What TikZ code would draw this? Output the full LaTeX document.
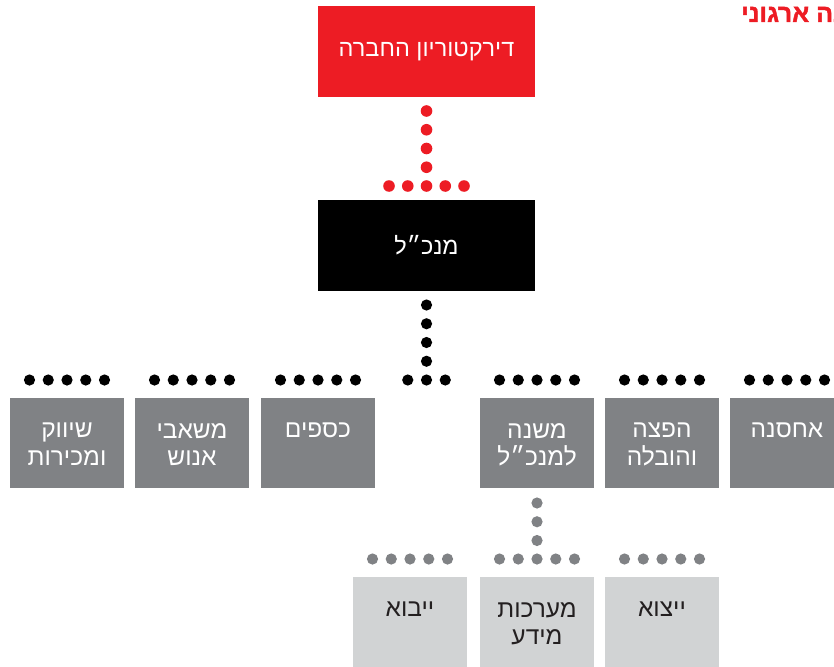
\documentclass[tikz,border=0pt]{standalone}
\usepackage{fontspec}
\usetikzlibrary{positioning, calc}
\TeXXeTstate=1
\newfontfamily\hebfont[Script=Hebrew]{Liberation Sans}
\newfontfamily\hebheavy[Script=Hebrew, FakeBold=1.6]{Liberation Sans Bold}
\newcommand{\heb}[1]{{\hebfont\beginR #1\endR}}
\definecolor{orgred}{HTML}{ED1C24}
\definecolor{orggray}{HTML}{808285}
\definecolor{orglight}{HTML}{D1D3D4}
\definecolor{orgink}{HTML}{231F20}

\begin{document}
\begin{tikzpicture}[x=1pt, y=-1pt,
    unit/.style={minimum width=114pt, minimum height=90pt, inner sep=0pt, outer sep=0pt},
    headbox/.style={minimum width=217pt, minimum height=91pt, inner sep=0pt, outer sep=0pt,
        text=white, font=\fontsize{23.5}{27}\selectfont},
    lbl/.style={anchor=north, inner sep=0pt, align=center, font=\fontsize{24.5}{27.5}\selectfont}]

    \useasboundingbox (0,0) rectangle (834,666);

    % Title (runs off the right edge)
    \node[anchor=base west, inner sep=0pt, text=orgred, font=\fontsize{25}{30}\selectfont]
        (title) at (741,22) {\hebheavy\beginR מבנה ארגוני\endR};

    % Board and CEO
    \node[headbox, fill=orgred] (board) at (426.5,51.5) {\heb{דירקטוריון החברה}};
    \node[headbox, fill=black] (ceo) at (426.5,245.5) {\heb{מנכ״ל}};

    % Departments
    \foreach \n/\x/\t in {mkt/67/{\heb{שיווק}\\\heb{ומכירות}},
                          hr/192/{\heb{משאבי}\\\heb{אנוש}},
                          fin/318/{\heb{כספים}},
                          dep/537/{\heb{משנה}\\\heb{למנכ״ל}},
                          dist/662/{\heb{הפצה}\\\heb{והובלה}},
                          stor/787/{\heb{אחסנה}}} {
        \node[unit, fill=orggray] (\n) at (\x,443) {};
        \node[lbl, text=white] (\n-l) at ([yshift=-25pt]\n.north) {\t};
    }

    % Units under the deputy
    \foreach \n/\x/\t in {imp/410/{\heb{ייבוא}},
                          it/537/{\heb{מערכות}\\\heb{מידע}},
                          exp/662/{\heb{ייצוא}}} {
        \node[unit, fill=orglight] (\n) at (\x,622) {};
        \node[lbl, text=orgink] (\n-l) at ([yshift=-25pt]\n.north) {\t};
    }

    % Dotted links: board -> CEO
    \foreach \k in {0,...,3}
        \fill[orgred] ($(board.south)+(0,14+18.75*\k)$) circle (5.8pt);
    \foreach \k in {-2,...,2}
        \fill[orgred] ($(ceo.north)+(18.75*\k,-14)$) circle (5.8pt);

    % CEO -> departments
    \foreach \k in {0,...,3}
        \fill ($(ceo.south)+(0,14+18.75*\k)$) circle (5.6pt);
    \foreach \k in {-1,...,1}
        \fill ($(ceo.south)+(18.75*\k,89)$) circle (5.6pt);
    \foreach \n in {mkt, hr, fin, dep, dist, stor}
        \foreach \k in {-2,...,2}
            \fill ($(\n.north)+(18.75*\k,-18)$) circle (5.6pt);

    % Deputy -> units
    \foreach \k in {0,...,2}
        \fill[orggray] ($(dep.south)+(0,15+18.75*\k)$) circle (5.6pt);
    \foreach \n in {imp, it, exp}
        \foreach \k in {-2,...,2}
            \fill[orggray] ($(\n.north)+(18.75*\k,-18)$) circle (5.6pt);
\end{tikzpicture}
\end{document}
